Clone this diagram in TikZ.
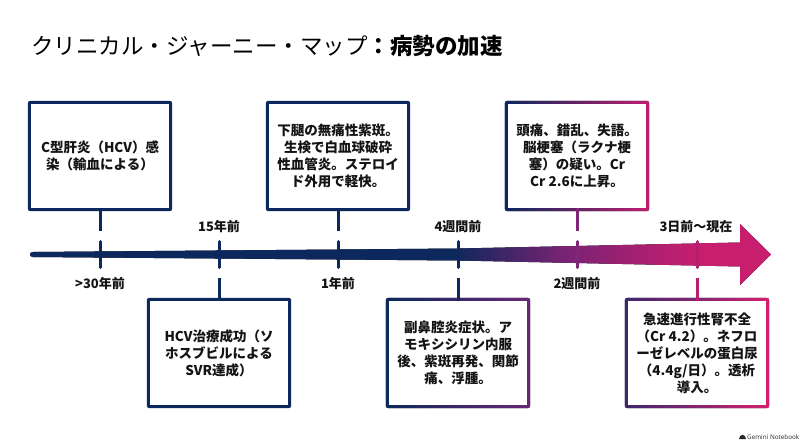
\documentclass[tikz,border=0pt]{standalone}
\usepackage{fontspec}
\newfontfamily\jp{Noto Sans CJK JP}
\newfontfamily\wmfont{Noto Sans}
\usetikzlibrary{backgrounds}
\definecolor{navy}{RGB}{12,40,92}
\definecolor{tlpurple}{RGB}{120,35,115}
\definecolor{tlmag}{RGB}{200,30,110}
\definecolor{txt}{RGB}{20,20,20}
\definecolor{b3r}{RGB}{190,30,112}
\definecolor{b4r}{RGB}{105,40,120}
\definecolor{b5l}{RGB}{60,40,110}
\definecolor{b5r}{RGB}{212,32,112}
\definecolor{c5}{RGB}{128,38,118}
\definecolor{c6}{RGB}{185,30,110}
\pgfdeclarehorizontalshading{tlshade}{100bp}{color(0bp)=(navy); color(53.5bp)=(navy); color(61bp)=(tlpurple); color(70bp)=(tlmag); color(100bp)=(tlmag)}
\tikzset{
  evbox/.style={minimum width=138, minimum height=104, fill=white, inner sep=0pt, align=center,
     text=txt, font=\jp\bfseries\fontsize{13.5}{17}\selectfont},
  lbl/.style={text=txt, font=\jp\bfseries\fontsize{13}{15}\selectfont, inner sep=0pt},
  conn/.style={line width=3pt},
  tick/.style={line width=3pt, line cap=round},
  frame/.style={rounded corners=2.5pt}
}
\begin{document}
\begin{tikzpicture}[x=1pt,y=-1pt]
\useasboundingbox (0,0) rectangle (800,447);
% title
\node[anchor=west, text=black, inner sep=0pt, font=\jp\fontsize{22.5}{27}\selectfont] (title) at (31,46)
  {クリニカル・ジャーニー・マップ{\bfseries ：病勢の加速}};
% timeline arrow
\fill[shading=tlshade] (33,252) -- (458,248.5) -- (740,242.5) -- (740,224) -- (771,254.5)
  -- (740,285) -- (740,266.5) -- (458,260.5) -- (33,257)
  .. controls (29,257) and (29,252) .. (33,252) -- cycle;
% tick coordinates
\coordinate (t1) at (100,254.5);
\coordinate (t2) at (219,254.5);
\coordinate (t3) at (338,254.5);
\coordinate (t4) at (458,254.5);
\coordinate (t5) at (577,254.5);
\coordinate (t6) at (697,254.5);
\draw[tick,navy] ([yshift=13pt]t1) -- ([yshift=-13pt]t1);
\draw[tick,navy] ([yshift=13pt]t2) -- ([yshift=-13pt]t2);
\draw[tick,navy] ([yshift=13pt]t3) -- ([yshift=-13pt]t3);
\draw[tick,navy] ([yshift=13pt]t4) -- ([yshift=-13pt]t4);
\draw[tick,c5] ([yshift=13pt]t5) -- ([yshift=-13pt]t5);
\draw[tick,c6] ([yshift=13pt]t6) -- ([yshift=-13pt]t6);
% labels
\node[lbl] (l1) at (100,284) {>30年前};
\node[lbl] (l2) at (219,227) {15年前};
\node[lbl] (l3) at (338,284) {1年前};
\node[lbl] (l4) at (458,227) {4週間前};
\node[lbl] (l5) at (577,284) {2週間前};
\node[lbl] (l6) at (696,227) {3日前〜現在};
% boxes
\node[evbox] (b1) at (100,156) {C型肝炎（HCV）感\\染（輸血による）};
\node[evbox] (b3) at (338,156) {下腿の無痛性紫斑。\\生検で白血球破砕\\性血管炎。ステロイ\\ド外用で軽快。};
\node[evbox] (b5) at (577,156) {頭痛、錯乱、失語。\\脳梗塞（ラクナ梗\\塞）の疑い。Cr\\Cr 2.6に上昇。};
\node[evbox] (b2) at (219,353) {HCV治療成功（ソ\\ホスブビルによる\\SVR達成）};
\node[evbox] (b4) at (458,353) {副鼻腔炎症状。ア\\モキシシリン内服\\後、紫斑再発、関節\\痛、浮腫。};
\node[evbox] (b6) at (697,353) {急速進行性腎不全\\（Cr 4.2）。ネフロ\\ーゼレベルの蛋白尿\\（4.4g/日）。透析\\導入。};
\begin{scope}[on background layer]
\fill[white] (0,0) rectangle (800,447);
\fill[frame, navy] ([shift={(-3,3)}]b1.south west) rectangle ([shift={(3,-3)}]b1.north east);
\fill[frame, navy] ([shift={(-3,3)}]b3.south west) rectangle ([shift={(3,-3)}]b3.north east);
\fill[frame, left color=navy, right color=b3r] ([shift={(-3,3)}]b5.south west) rectangle ([shift={(3,-3)}]b5.north east);
\fill[frame, navy] ([shift={(-3,3)}]b2.south west) rectangle ([shift={(3,-3)}]b2.north east);
\fill[frame, left color=navy, right color=b4r] ([shift={(-3,3)}]b4.south west) rectangle ([shift={(3,-3)}]b4.north east);
\fill[frame, left color=b5l, right color=b5r] ([shift={(-3,3)}]b6.south west) rectangle ([shift={(3,-3)}]b6.north east);
\end{scope}
% connectors
\coordinate (c1) at (100,231);
\coordinate (c3) at (338,231);
\coordinate (c5) at (577,231);
\coordinate (c2) at (219,278);
\coordinate (c4) at (458,278);
\coordinate (c6) at (697,278);
\draw[conn,navy] (b1.south) -- (c1);
\draw[conn,navy] (b3.south) -- (c3);
\draw[conn,c5] (b5.south) -- (c5);
\draw[conn,navy] (c2) -- (b2.north);
\draw[conn,navy] (c4) -- (b4.north);
\draw[conn,c6] (c6) -- (b6.north);
% watermark
\fill[black!85] (739,439) .. controls (739.5,433.5) and (745.5,433.5) .. (746,439) -- cycle;
\node[anchor=west, inner sep=0pt, text=black!80, font=\wmfont\fontsize{6.3}{7}\selectfont] (wm) at (747,437) {Gemini Notebook};
\end{tikzpicture}
\end{document}
